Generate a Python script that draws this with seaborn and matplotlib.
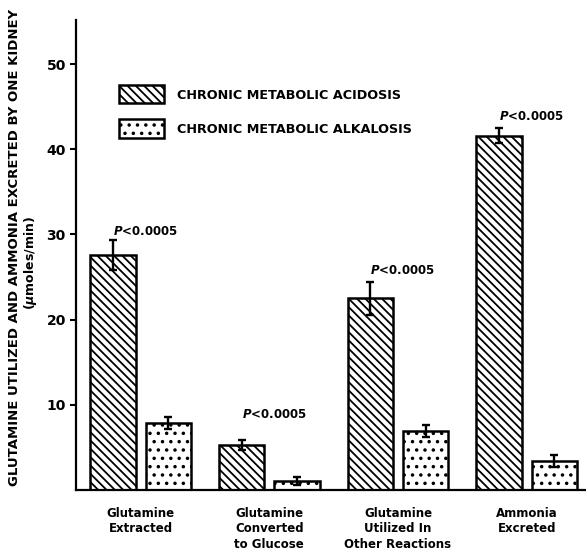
import matplotlib
matplotlib.use('Agg')
import matplotlib.pyplot as plt
import matplotlib.patches as mpatches
import seaborn as sns
import pandas as pd

categories = ['Glutamine\nExtracted', 'Glutamine\nConverted\nto Glucose',
              'Glutamine\nUtilized In\nOther Reactions', 'Ammonia\nExcreted']
conditions = ['CHRONIC METABOLIC ACIDOSIS', 'CHRONIC METABOLIC ALKALOSIS']
acidosis = [27.6, 5.3, 22.5, 41.6]
acidosis_se = [1.8, 0.6, 1.9, 0.9]
alkalosis = [7.9, 1.1, 6.9, 3.4]
alkalosis_se = [0.7, 0.45, 0.7, 0.7]
p_label = r'$P$<0.0005'
y_ticks = [10, 20, 30, 40, 50]

data = pd.DataFrame({
    'category': categories * 2,
    'condition': [conditions[0]] * 4 + [conditions[1]] * 4,
    'value': acidosis + alkalosis,
})

sns.set_style('ticks', {'axes.edgecolor': 'black', 'text.color': 'black',
                        'xtick.color': 'black', 'ytick.color': 'black',
                        'axes.labelcolor': 'black'})
plt.rcParams['font.family'] = ['DejaVu Sans']
plt.rcParams['font.weight'] = 'bold'
plt.rcParams['hatch.linewidth'] = 1.3
plt.rcParams['hatch.color'] = 'black'

fig = plt.figure(figsize=(5.86, 5.5), dpi=100)
ax = fig.add_axes([0.13, 0.109, 0.87, 0.855])

sns.barplot(data=data, x='category', y='value', hue='condition',
            palette=['white', 'white'], edgecolor='black', linewidth=1.8,
            width=0.86, gap=0.18, errorbar=None, ax=ax)

hatches = ['\\\\\\\\', '..']
errs = [acidosis_se, alkalosis_se]
for cont, hatch, se in zip(ax.containers, hatches, errs):
    xs = []
    ys = []
    for bar in cont.patches:
        bar.set_hatch(hatch)
        xs.append(bar.get_x() + bar.get_width() / 2)
        ys.append(bar.get_height())
    ax.errorbar(xs, ys, yerr=se, fmt='none', ecolor='black',
                elinewidth=1.7, capsize=3, capthick=1.7, zorder=5)

# significance labels above the acidosis bars
lift = [1.0, 3.0, 1.4, 1.4]
for bar, se, d in zip(ax.containers[0].patches, acidosis_se, lift):
    x = bar.get_x() + bar.get_width() / 2
    ax.text(x, bar.get_height() + se + d, p_label, ha='left', va='center',
            fontsize=8.5, fontweight='bold', color='black')

ax.set_xlim(-0.5, 3.46)
ax.set_ylim(0, 55.2)
ax.set_yticks(y_ticks)
ax.tick_params(axis='y', labelsize=10, length=4, width=1.5, direction='out',
               colors='black')
ax.tick_params(axis='x', labelsize=8.5, length=0, pad=12, colors='black')
ax.set_xlabel('')
ax.set_ylabel('')
for lab in ax.get_xticklabels() + ax.get_yticklabels():
    lab.set_fontweight('bold')
for lab in ax.get_xticklabels():
    lab.set_linespacing(1.25)
sns.despine(ax=ax)
ax.spines['left'].set_linewidth(1.6)
ax.spines['bottom'].set_linewidth(1.6)

fig.text(0.025, 0.55, 'GLUTAMINE UTILIZED AND AMMONIA EXCRETED BY ONE KIDNEY',
         rotation=90, ha='center', va='center', fontsize=9.5, fontweight='bold',
         color='black')
fig.text(0.052, 0.522, r'($\mu$moles/min)', rotation=90, ha='center',
         va='center', fontsize=9, fontweight='bold', color='black')

handles = [mpatches.Patch(facecolor='white', edgecolor='black', linewidth=1.8,
                          hatch=h) for h in hatches]
leg = ax.legend(handles, conditions, loc='upper left',
                bbox_to_anchor=(0.062, 0.885), frameon=False, fontsize=9.2,
                handlelength=3.5, handleheight=1.8, handletextpad=1.0,
                labelspacing=1.25)
for t in leg.get_texts():
    t.set_color('black')

fig.savefig('out.png', dpi=100)
